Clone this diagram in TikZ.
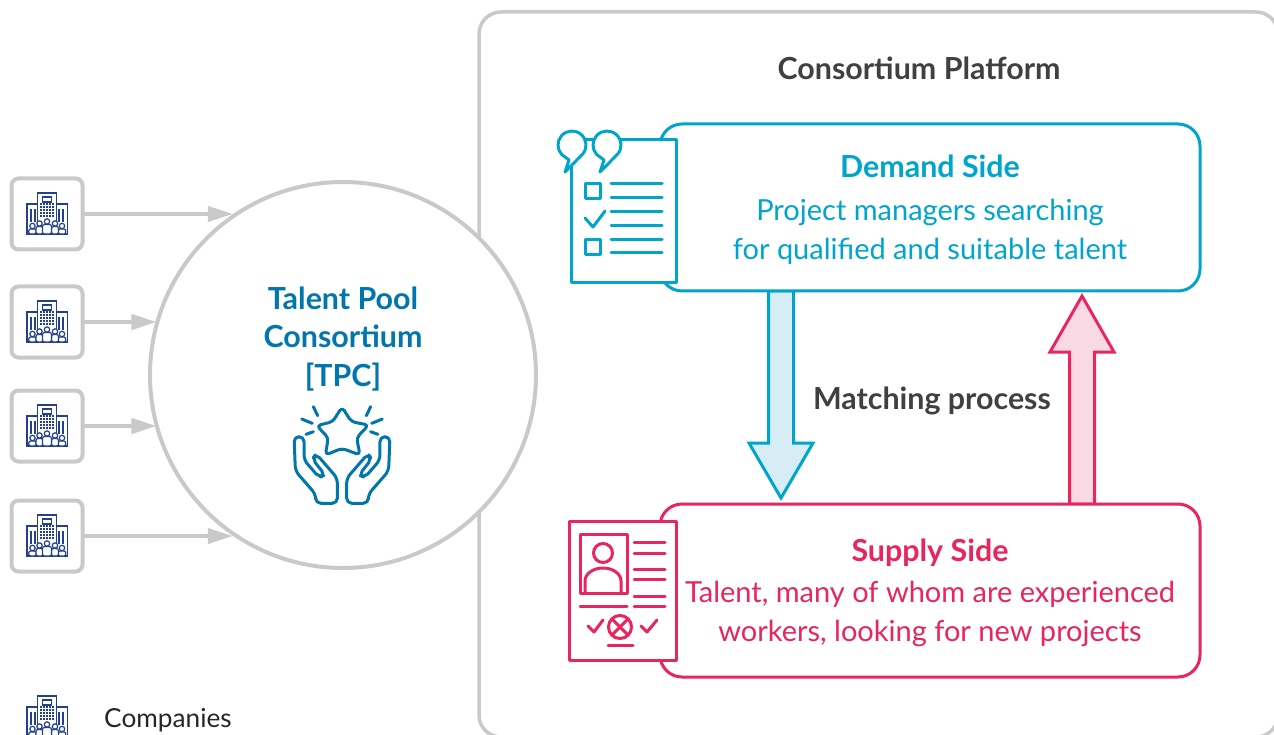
\documentclass[tikz,border=0pt]{standalone}
\usepackage{fontspec}
\setmainfont{Lato}
\usetikzlibrary{arrows.meta,positioning,calc}

\definecolor{linegray}{HTML}{C9C9C7}
\definecolor{textgray}{HTML}{404040}
\definecolor{demandblue}{HTML}{00A5CC}
\definecolor{demandfill}{HTML}{D6EDF5}
\definecolor{supplyred}{HTML}{E8255F}
\definecolor{supplyfill}{HTML}{F9D9E4}
\definecolor{pooltext}{HTML}{0076AD}
\definecolor{companynavy}{HTML}{23408C}

\newcommand{\headfont}{\fontsize{30.4}{38.5}\selectfont\bfseries}
\newcommand{\sidetop}{\rule{0pt}{27pt}}

\tikzset{
  compbox/.style={draw=linegray, line width=4pt, rounded corners=7pt, fill=white, minimum size=71pt, outer sep=0pt},
  sidebox/.style={line width=3pt, rounded corners=22pt, fill=white, minimum width=540pt, align=center, outer sep=0pt, font=\fontsize{29}{39}\selectfont},
  flow/.style={draw=linegray, line width=4pt, -{Triangle[length=25pt,width=15pt]}},
  fatarrow/.style={line width=3pt, to path={let \p1=(\tikztostart), \p2=(\tikztotarget) in
    (\x1-12.5pt,\y1) -- (\x1-12.5pt,\y2+#1) -- (\x1-32pt,\y2+#1) -- (\x2,\y2) -- (\x1+32pt,\y2+#1) -- (\x1+12.5pt,\y2+#1) -- (\x1+12.5pt,\y1) -- cycle}},
  % building with people in front
  company/.pic={
    \begin{scope}[draw=companynavy, line width=1.2pt, fill=white]
      \draw (-9.5,20) rectangle (9.5,-21);
      \draw (-20,20) rectangle (-9.5,-10);
      \draw (9.5,20) rectangle (20.5,-10);
      \draw (-4.5,-17) rectangle (4.5,-12);
      \foreach \gx in {-6,-3,0,3,6}
        \foreach \gy in {-10,-7,-4,-1,2}
          \fill[companynavy] (\gx-1,\gy-1) rectangle (\gx+1,\gy+1);
      \foreach \gx in {-17,-13,11,15}
        \fill[companynavy] (\gx,-5) rectangle (\gx+2,8);
      \foreach \px/\py/\pw in {-14.5/12/3.8, 15/12/3.8, -7.5/9.5/3.5, 8/9.5/3.5, 0/7.5/4.5} {
        \filldraw[rounded corners=2pt] (\px-\pw,20) -- (\px-\pw,\py+3) -- (\px+\pw,\py+3) -- (\px+\pw,20) -- cycle;
        \filldraw (\px,\py) circle (2.7);
      }
    \end{scope}
  },
  % star held by two hands
  hands/.pic={
    \begin{scope}[x=.333pt, y=-.333pt, shift={(-186,-180)}, draw=pooltext, line width=3pt, line cap=round, line join=round]
      \draw[rounded corners=4pt] (186,36) -- (214,80) -- (266,90) -- (230,128) -- (240,180) -- (186,160) -- (136,180) -- (145,128) -- (110,92) -- (158,80) -- cycle;
      \foreach \sx in {1,-1} {
        \begin{scope}[shift={(186,0)}, xscale=\sx, shift={(-186,0)}]
          \draw (100,35) -- (113,62);
          \draw (65,72) -- (97,85);
          \draw (78,118) -- (100,110);
          \draw[rounded corners=5pt] (107,325) -- (107,298) -- (46,228) -- (42,125) -- (72,125) -- (72,195) -- (118,248) -- (135,240) -- (97,192) -- (108,176) -- (172,250) -- (172,325) -- cycle;
        \end{scope}
      }
    \end{scope}
  },
  % checklist sheet with speech bubbles
  checklist/.pic={
    \begin{scope}[draw=demandblue, line width=3pt, line cap=round, line join=round]
      \filldraw[fill=white, line cap=butt] (571,140) rectangle (676,283);
      \foreach \bx in {572,607}
        \filldraw[fill=white] (\bx-7,172) -- (\bx+10.4,154.4) arc (42:-222:14) -- (\bx-3,160) -- cycle;
      \draw (585,184) rectangle (600,199);
      \draw (585,240) rectangle (600,255);
      \draw (585,218) -- (593,227) -- (605,211);
      \foreach \ly in {184,198,212,226,240,253}
        \draw (611,\ly) -- (662,\ly);
    \end{scope}
  },
  % resume sheet with photo
  resume/.pic={
    \begin{scope}[draw=supplyred, line width=3pt, line cap=round, line join=round]
      \filldraw[fill=white, line cap=butt] (569,521) rectangle (676,660);
      \draw (580,534) rectangle (627,593);
      \draw (603,553) circle (9.5);
      \draw (585,592) -- (585,581) arc (180:360:18 and 13) -- (621,592);
      \foreach \ly in {542,553,569,579,596,606}
        \draw (634,\ly) -- (665,\ly);
      \draw (580,606) -- (627,606);
      \draw (588,626) -- (594,632) -- (603,620);
      \draw (641,626) -- (647,632) -- (657,620);
      \draw (620,627) circle (11.5);
      \draw (613,620) -- (627,634);
      \draw (627,620) -- (613,634);
      \draw (608,645) -- (633,645);
    \end{scope}
  }
}

\begin{document}
\begin{tikzpicture}[x=1pt, y=-1pt]
\useasboundingbox (0,0) rectangle (1274,735);

% platform
\node[draw=linegray, line width=3.5pt, rounded corners=22pt, minimum width=799pt, minimum height=725pt] (platform) at (878.5,374.5) {};
\node[text=textgray, font=\headfont] (platformlabel) at (919,68) {Consortium Platform};

% matching arrows
\coordinate (downstart) at (781,291);
\coordinate (downend) at (781,498);
\coordinate (upstart) at (1082,504);
\coordinate (upend) at (1082,296);
\draw[fatarrow=55pt, draw=demandblue, fill=demandfill] (downstart) to (downend);
\draw[fatarrow=-56pt, draw=supplyred, fill=supplyfill] (upstart) to (upend);
\node[text=textgray, font=\headfont] (matching) at (932,401) {Matching process};

% sides
\node[sidebox, draw=demandblue, text=demandblue, minimum height=167pt] (demand) at (930,207.5) {\sidetop{\headfont Demand Side}\\[4pt]Project managers searching\\for qualified and suitable talent};
\node[sidebox, draw=supplyred, text=supplyred, minimum height=173pt] (supply) at (930,590.5) {\sidetop{\headfont Supply Side}\\[2pt]Talent, many of whom are experienced\\workers, looking for new projects};

\pic at (0,0) {checklist};
\pic at (0,0) {resume};

% pool
\node[circle, draw=linegray, line width=4pt, fill=white, minimum size=386pt, outer sep=0pt] (tpc) at (343,375) {};
\node[align=center, text=pooltext, font=\headfont] (tpclabel) at (343,339) {Talent Pool\\Consortium\\{[TPC]}};
\pic at (342,455) {hands};

% companies
\node[compbox] (comp1) at (47,214) {};
\node[compbox, below=37pt of comp1] (comp2) {};
\node[compbox, below=33pt of comp2] (comp3) {};
\node[compbox, below=39pt of comp3] (comp4) {};
\foreach \c in {1,2,3,4}
  \pic at (comp\c) {company};

\draw[flow, shorten >=5pt] (comp1) -- (comp1 -| tpc.123);
\draw[flow, shorten >=1pt] (comp2) -- (comp2 -| tpc.164);
\draw[flow, shorten >=1pt] (comp3) -- (comp3 -| tpc.196);
\draw[flow, shorten >=5pt] (comp4) -- (comp4 -| tpc.237);

% legend
\node[minimum size=1pt, inner sep=0pt] (legendicon) at (47,717) {};
\pic at (legendicon) {company};
\node[right=53pt of legendicon, yshift=-3pt, text=black!85, font=\fontsize{26.2}{30}\selectfont] (legendlabel) {Companies};
\end{tikzpicture}
\end{document}
